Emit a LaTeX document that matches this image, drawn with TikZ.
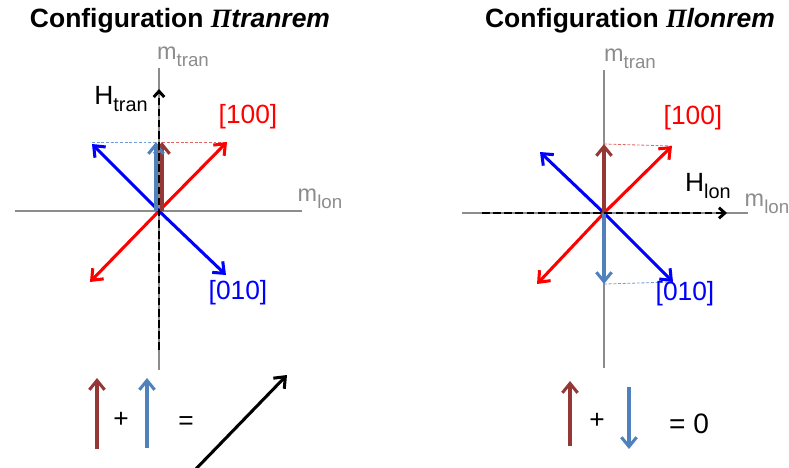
\documentclass[tikz,border=0pt]{standalone}
\usepackage{fontspec}
\setmainfont{Liberation Sans}
\newfontfamily\greekfont{Liberation Serif}
\usetikzlibrary{arrows.meta, positioning, calc}
\definecolor{redcol}{HTML}{FF0000}
\definecolor{bluecol}{HTML}{0000FF}
\definecolor{browncol}{HTML}{953735}
\definecolor{steelcol}{HTML}{4F81BD}
\definecolor{axiscol}{HTML}{8C8C8C}
\definecolor{redguide}{HTML}{E06666}
\definecolor{blueguide}{HTML}{6F9BD8}
\newcommand{\lowtxt}[2]{\raisebox{-0.3em}{\fontsize{#1}{#1}\selectfont #2}}

\begin{document}
\begin{tikzpicture}[
  x=0.03cm, y=-0.03cm,
  axis/.style={draw=axiscol, line width=0.9pt},
  vec/.style={line width=2.6pt, -{Straight Barb[length=8pt, width=13pt]}},
  field/.style={black, line width=2.5pt, dash pattern=on 6.5pt off 3pt,
                -{Straight Barb[length=5pt, width=9pt]}},
  guide/.style={line width=0.7pt, dash pattern=on 2.5pt off 1.5pt},
  ttl/.style={font=\fontsize{22.6}{22.6}\selectfont\bfseries},
  lbl/.style={font=\fontsize{22.5}{22.5}\selectfont, inner sep=0pt},
  axlbl/.style={text=axiscol, font=\fontsize{20}{20}\selectfont, inner sep=0pt},
]
  \useasboundingbox (0,0) rectangle (789,467);

  % titles
  \node[ttl] (ttltran) at (180,21)
    {Configuration {\greekfont\itshape\char"03A0}\textit{tranrem}};
  \node[ttl] (ttllon) at (630,21)
    {Configuration {\greekfont\itshape\char"03A0}\textit{lonrem}};

  % left panel: transverse
  \coordinate (o1) at (159,211);
  \coordinate (xl1) at (15,211);   \coordinate (xr1) at (302,211);
  \coordinate (yt1) at (159,68);   \coordinate (yb1) at (159,370);
  \coordinate (r1a) at (227,142);  \coordinate (r1b) at (90,282);
  \coordinate (b1a) at (92,144);   \coordinate (b1b) at (226,275);
  \coordinate (br1) at (162,142);  \coordinate (st1) at (156,142);
  \coordinate (br1o) at (162,211); \coordinate (st1o) at (156,211);
  \coordinate (h1a) at (159,350);  \coordinate (h1b) at (159,89);
  \draw[axis] (xl1) -- (xr1);
  \draw[axis] (yt1) -- (yb1);
  \draw[guide, blueguide] (b1a |- st1) -- (st1);
  \draw[guide, redguide] (br1) -- (r1a);
  \node[axlbl] (mtran1) at (183,57) {m\lowtxt{16}{tran}};
  \node[axlbl] (mlon1) at (320,199) {m\lowtxt{16}{lon}};
  \node[lbl, text=redcol] (dir100a) at (248,117) {[100]};
  \node[lbl, text=bluecol] (dir010a) at (238,293) {[010]};
  \node[lbl] (htran) at (121,99) {H\lowtxt{17}{tran}};

  % right panel: longitudinal
  \coordinate (o2) at (604,213);
  \coordinate (xl2) at (462,213);  \coordinate (xr2) at (748,213);
  \coordinate (yt2) at (604,70);   \coordinate (yb2) at (604,368);
  \coordinate (r2a) at (672,146);  \coordinate (r2b) at (537,284);
  \coordinate (b2a) at (540,152);  \coordinate (b2b) at (673,282);
  \coordinate (br2) at (604,144);  \coordinate (st2) at (604,284);
  \coordinate (h2a) at (482,213);  \coordinate (h2b) at (727,213);
  \draw[axis] (xl2) -- (xr2);
  \draw[axis] (yt2) -- (yb2);
  \draw[guide, redguide] (br2) -- (r2a);
  \draw[guide, blueguide] (st2) -- (b2b);
  \node[axlbl] (mtran2) at (630,59) {m\lowtxt{16}{tran}};
  \node[axlbl] (mlon2) at (767,204) {m\lowtxt{16}{lon}};
  \node[lbl, text=redcol] (dir100b) at (693,118) {[100]};
  \node[lbl, text=bluecol] (dir010b) at (685,294) {[010]};
  \node[lbl] (hlon) at (708,186) {H\lowtxt{17}{lon}};

  % crystal axes and magnetisations
  \foreach \from/\to/\col in {o1/r1a/redcol, o1/r1b/redcol, o1/b1a/bluecol, o1/b1b/bluecol,
                              o2/r2a/redcol, o2/r2b/redcol, o2/b2a/bluecol, o2/b2b/bluecol,
                              br1o/br1/browncol, st1o/st1/steelcol,
                              o2/br2/browncol, o2/st2/steelcol} {
    \draw[vec, \col] (\from) -- (\to);
  }
  \draw[field] (h1a) -- (h1b);
  \draw[field] (h2a) -- (h2b);

  % sums
  \coordinate (sb1) at (97,449);   \coordinate (se1) at (97,378);
  \coordinate (ss1) at (147,448);  \coordinate (sf1) at (147,378);
  \coordinate (tot0) at (193,472); \coordinate (tot1) at (287,375);
  \draw[vec, browncol] (sb1) -- (se1);
  \draw[vec, steelcol] (ss1) -- (sf1);
  \draw[vec, black] (tot0) -- (tot1);
  \node[lbl] (plus1) at (121,420) {+};
  \node[lbl] (eq1) at (186,423) {=};

  \coordinate (sb2) at (570,446);  \coordinate (se2) at (570,381);
  \coordinate (ss2) at (629,387);  \coordinate (sf2) at (629,449);
  \draw[vec, browncol] (sb2) -- (se2);
  \draw[vec, steelcol] (ss2) -- (sf2);
  \node[lbl] (plus2) at (597,421) {+};
  \node[lbl, font=\fontsize{24}{24}\selectfont] (eq2) at (689,424) {= 0};
\end{tikzpicture}
\end{document}
